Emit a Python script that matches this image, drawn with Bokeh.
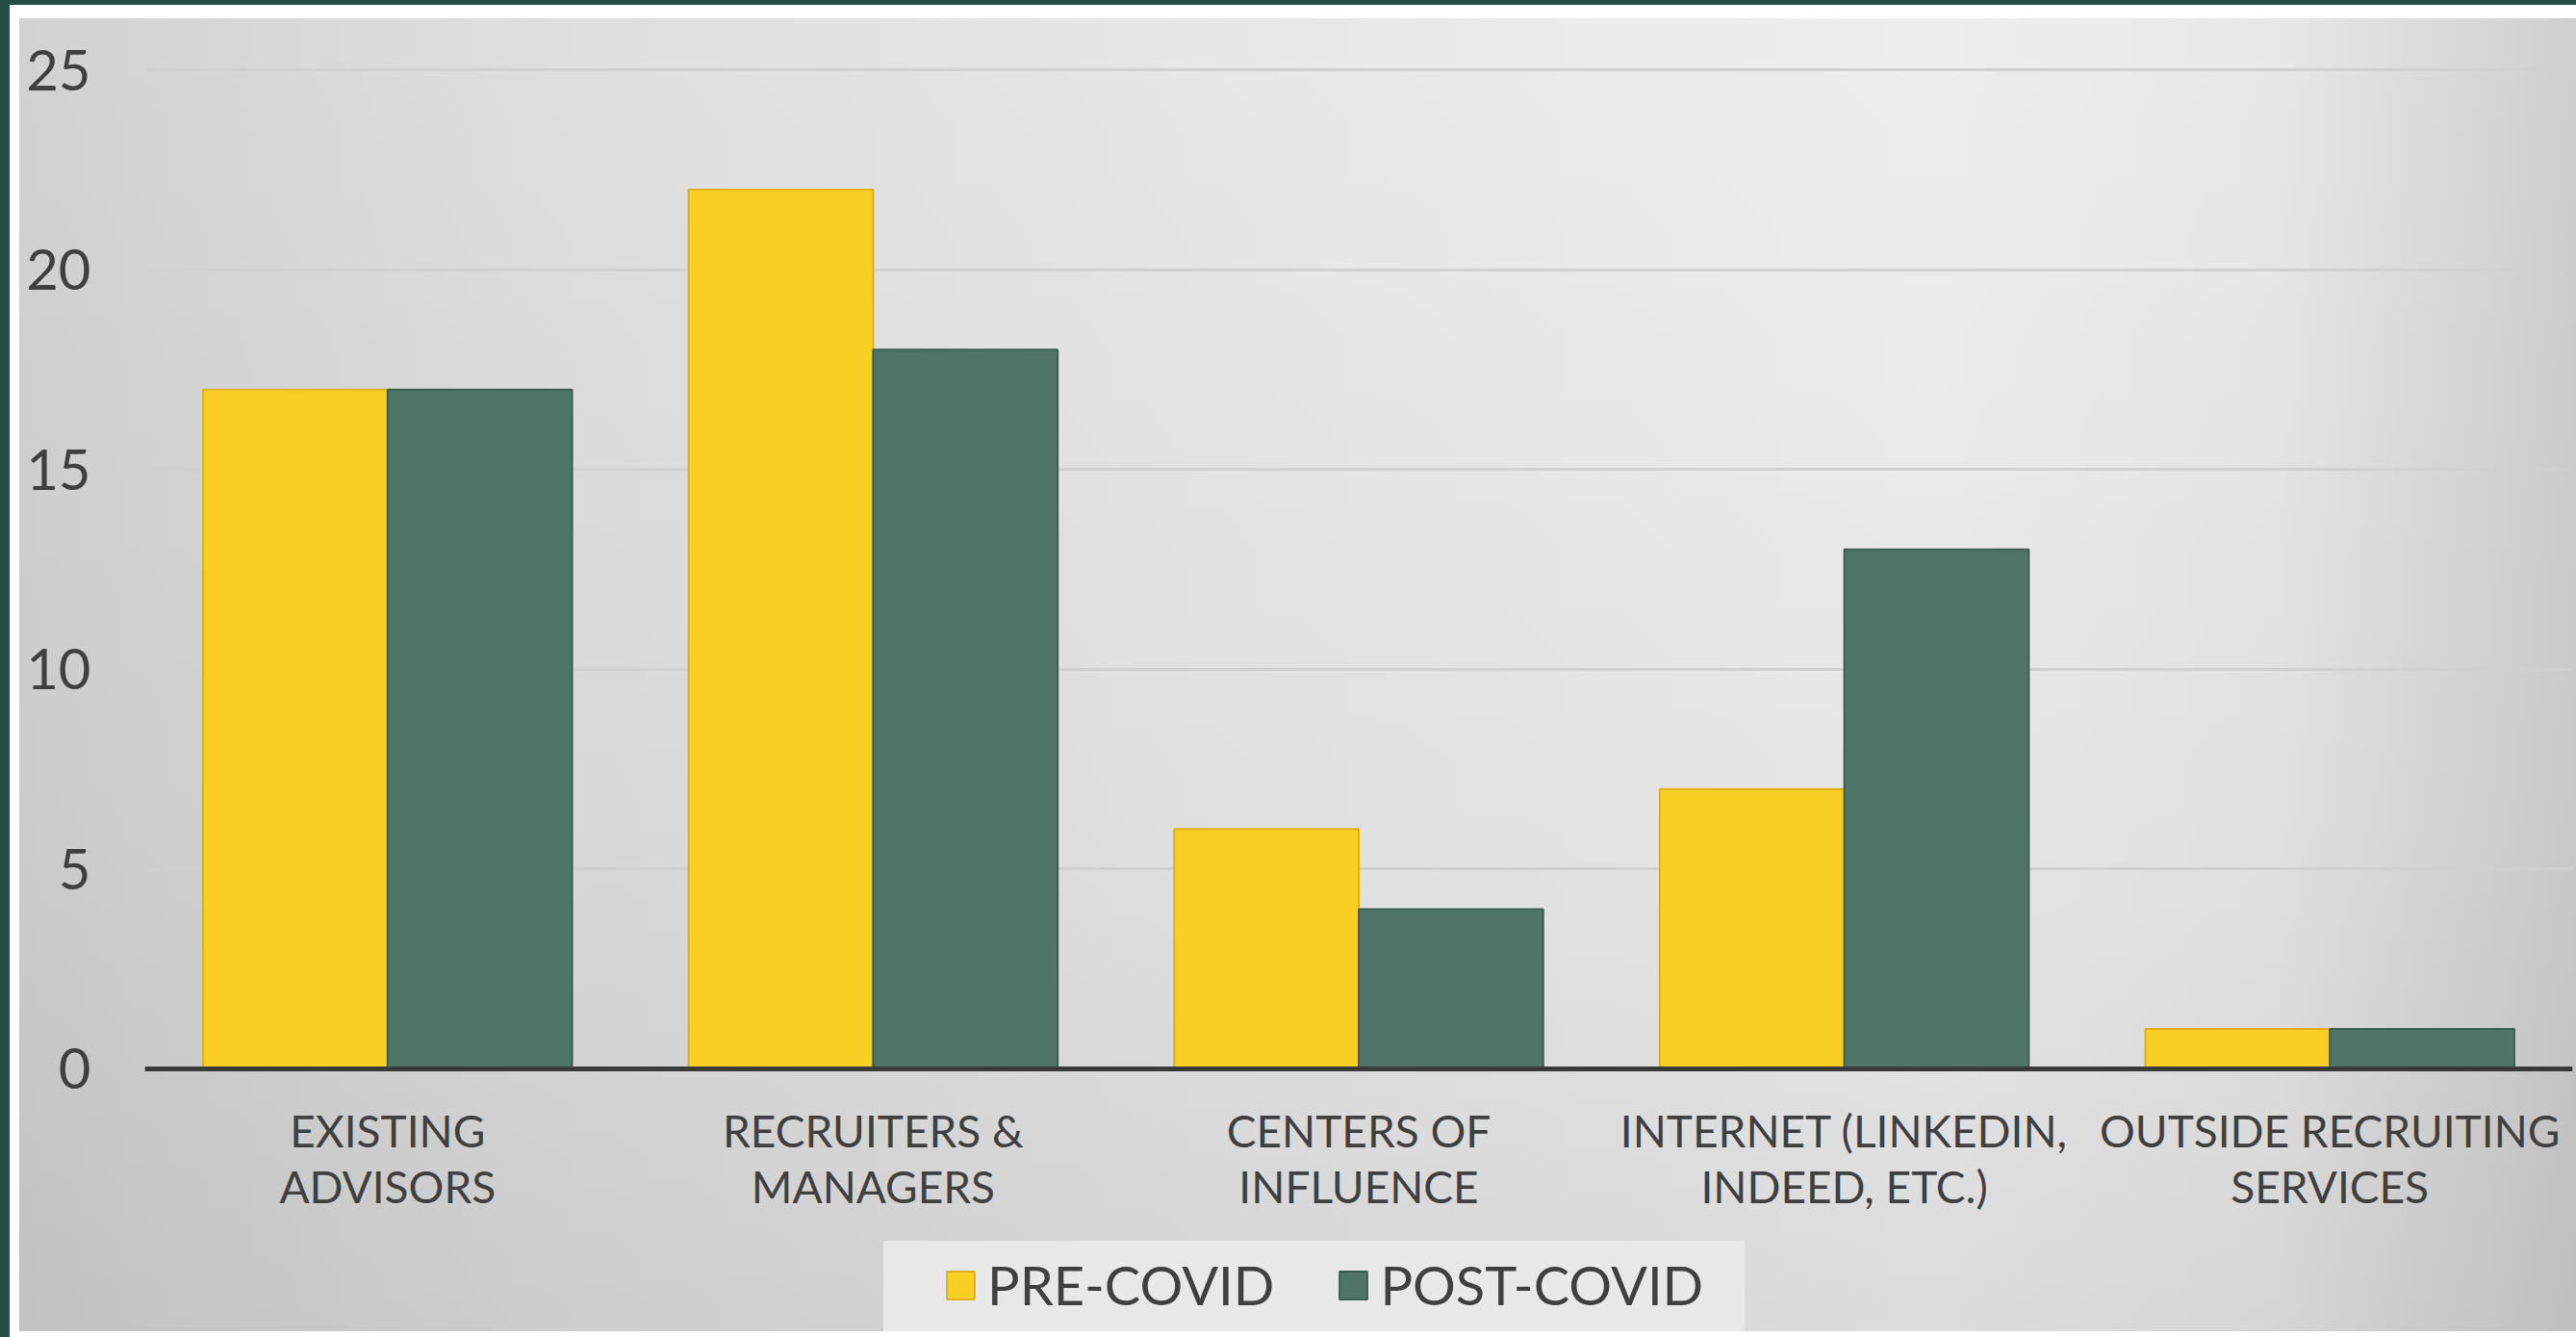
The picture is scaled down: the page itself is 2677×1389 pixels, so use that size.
from bokeh.plotting import figure
from bokeh.models import (FactorRange, Range1d, ColumnDataSource, Legend, LegendItem,
                          FixedTicker, Span)
from bokeh.core.properties import value
from bokeh.transform import dodge
from bokeh.embed import file_html
from bokeh.resources import INLINE

# ---- data ----
categories = ["EXISTING ADVISORS", "RECRUITERS & MANAGERS", "CENTERS OF INFLUENCE",
              "INTERNET (LINKEDIN, INDEED, ETC.)", "OUTSIDE RECRUITING SERVICES"]
label_line1 = ["EXISTING", "RECRUITERS &", "CENTERS OF", "INTERNET (LINKEDIN,", "OUTSIDE RECRUITING"]
label_line2 = ["ADVISORS", "MANAGERS", "INFLUENCE", "INDEED, ETC.)", "SERVICES"]
pre_covid = [17, 22, 6, 7, 1]
post_covid = [17, 18, 4, 13, 1]
y_ticks = [0, 5, 10, 15, 20, 25]
series_names = ["PRE-COVID", "POST-COVID"]

FONT = "Lato"
TEXT = "#404040"

src = ColumnDataSource(dict(cat=categories, pre=pre_covid, post=post_covid,
                            line1=label_line1, line2=label_line2,
                            y1=[-1.54] * len(categories), y2=[-2.94] * len(categories)))

# the frame spans down to the bottom of the page; category labels and legend sit below zero
p = figure(x_range=FactorRange(*categories, range_padding=0),
           y_range=Range1d(-6.72, 25.506),
           frame_width=2523, frame_height=1338,
           min_border_left=150, min_border_right=4, min_border_top=51, min_border_bottom=0,
           output_backend="svg", toolbar_location=None)

p.border_fill_color = None
p.background_fill_color = None
p.outline_line_color = None

G = "#254F43"
p.styles = {
    "background": (
        f"linear-gradient({G},{G}) 0px 0px / 10px 100% no-repeat, "
        f"linear-gradient({G},{G}) 0px 0px / 100% 5px no-repeat, "
        "linear-gradient(#E8E8E8,#E8E8E8) 918px 1289px / 895px 94px no-repeat, "
        "linear-gradient(to bottom, rgba(0,0,0,0) 0%, rgba(0,0,0,0.03) 60%, rgba(0,0,0,0.08) 100%) 20px 19px / 2657px 1364px no-repeat, "
        "linear-gradient(to right, #D2D2D2 0%, #DEDEDE 20%, #E8E8E8 50%, #EEEEEE 75%, #E8E8E8 88%, #CFCFCF 100%) 20px 19px / 2657px 1364px no-repeat, "
        "#FFFFFF"
    )
}

r_pre = p.vbar(x=dodge("cat", -0.19, range=p.x_range), top="pre", width=0.38, source=src,
               fill_color="#F9CF24", line_color="#DDB01C", line_width=2)
r_post = p.vbar(x=dodge("cat", 0.19, range=p.x_range), top="post", width=0.38, source=src,
                fill_color="#4E7568", line_color="#3E5E52", line_width=2)

# zero line (category axis line)
p.add_layout(Span(location=0, dimension="width", line_color="#3A3A3A", line_width=5))

# category labels (two lines each)
for col, ycol in (("line1", "y1"), ("line2", "y2")):
    p.text(x="cat", y=ycol, text=col, source=src, text_align="center",
           text_baseline="alphabetic", text_font=value(FONT), text_font_size="46px",
           text_color=TEXT)

# axes
p.xaxis.visible = False
p.yaxis.ticker = FixedTicker(ticks=y_ticks)
p.yaxis.axis_line_color = None
p.yaxis.major_tick_line_color = None
p.yaxis.minor_tick_line_color = None
p.yaxis.major_label_standoff = 50
p.yaxis.major_label_text_font = FONT
p.yaxis.major_label_text_font_size = "58px"
p.yaxis.major_label_text_color = TEXT

p.xgrid.grid_line_color = None
p.ygrid.ticker = FixedTicker(ticks=y_ticks)
p.ygrid.grid_line_color = "#D0D0D0"
p.ygrid.grid_line_width = 3

# legend inside the (extended) frame, below the category labels
legend = Legend(items=[LegendItem(label=series_names[0], renderers=[r_pre]),
                       LegendItem(label=series_names[1], renderers=[r_post])],
                orientation="horizontal", location=(830, 21))
legend.label_text_font = FONT
legend.label_text_font_size = "56px"
legend.label_text_color = TEXT
legend.glyph_width = 36
legend.glyph_height = 36
legend.label_standoff = 10
legend.spacing = 64
legend.padding = 12
legend.margin = 0
legend.background_fill_alpha = 0
legend.border_line_color = None
p.add_layout(legend, "center")

open("out.html", "w").write(file_html(p, INLINE))
